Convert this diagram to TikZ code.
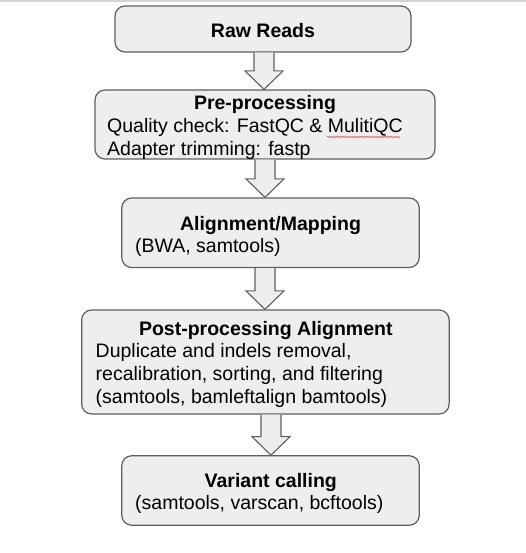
\documentclass[tikz,border=0pt]{standalone}
\usepackage{fontspec}
\setmainfont{Liberation Sans}
\usetikzlibrary{calc,decorations.pathmorphing}
\definecolor{boxfill}{HTML}{EEEEEE}
\definecolor{boxline}{HTML}{5F5F5F}
\definecolor{topline}{HTML}{D4D4D4}
\definecolor{spell}{HTML}{E05050}
\tikzset{
  box/.style={draw=boxline, fill=boxfill, line width=1.2pt, rounded corners=10pt, rectangle, inner sep=0pt},
  arr/.style={draw=boxline, fill=boxfill, line width=1.1pt, line join=miter},
  title/.style={font=\fontsize{19.5}{22.8}\selectfont\bfseries, inner sep=0pt, anchor=base},
  body/.style={font=\fontsize{19.5}{22.8}\selectfont, inner sep=0pt, anchor=base west},
}
\newcommand\flowarrow[3]{%
  \draw[arr] ($(#1 |- #2.south)+(-10,0)$) -- ($(#1 |- #3.north)+(-10,-18.5)$) --
    ($(#1 |- #3.north)+(-19,-18.5)$) -- (#1 |- #3.north) --
    ($(#1 |- #3.north)+(19,-18.5)$) -- ($(#1 |- #3.north)+(10,-18.5)$) --
    ($(#1 |- #2.south)+(10,0)$);}
\begin{document}
\begin{tikzpicture}[x=1pt,y=-1pt]
\useasboundingbox (0,0) rectangle (526,553);
\fill[white] (0,0) rectangle (526,553);
\fill[topline] (0,0) rectangle (526,2);
% arrow axes
\coordinate (ax1) at (264,0);
\coordinate (ax2) at (265,0);
\coordinate (ax3) at (265,0);
\coordinate (ax4) at (271,0);
% boxes
\node[box, minimum width=296pt, minimum height=46pt] (b1) at (263,29) {};
\node[box, minimum width=340pt, minimum height=69pt] (b2) at (265,124.5) {};
\node[box, minimum width=297.5pt, minimum height=69.5pt] (b3) at (270.5,232.75) {};
\node[box, minimum width=367.5pt, minimum height=104pt] (b4) at (265.4,362) {};
\node[box, minimum width=297.5pt, minimum height=69.5pt] (b5) at (270.5,490.5) {};
% arrows
\flowarrow{ax1}{b1}{b2}
\flowarrow{ax2}{b2}{b3}
\flowarrow{ax3}{b3}{b4}
\flowarrow{ax4}{b4}{b5}
% texts
\node[title] (t1) at (263,37.2) {Raw Reads};
\node[title] (t2) at (265,109.3) {Pre-processing};
\node[body] (l21) at (107,132.7) {Quality check: FastQC \& MulitiQC};
\node[body] (l22) at (107,155.3) {Adapter trimming: fastp};
\node[title] (t3) at (270.5,230) {Alignment/Mapping};
\node[body] (l31) at (135,252) {(BWA, samtools)};
\node[title] (t4) at (265.8,335.7) {Post-processing Alignment};
\node[body] (l41) at (95.5,357.8) {Duplicate and indels removal,};
\node[body] (l42) at (95.5,380.6) {recalibration, sorting, and filtering};
\node[body] (l43) at (95.5,403.4) {(samtools, bamleftalign bamtools)};
\node[title] (t5) at (270.8,487.3) {Variant calling};
\node[body] (l51) at (135,509.8) {(samtools, varscan, bcftools)};
% spell-check underline
\coordinate (sq1) at (327,137);
\coordinate (sq2) at (400,137);
\draw[spell, line width=0.6pt, decorate, decoration={snake, amplitude=0.8pt, segment length=3pt}] (sq1) -- (sq2);
\end{tikzpicture}
\end{document}
